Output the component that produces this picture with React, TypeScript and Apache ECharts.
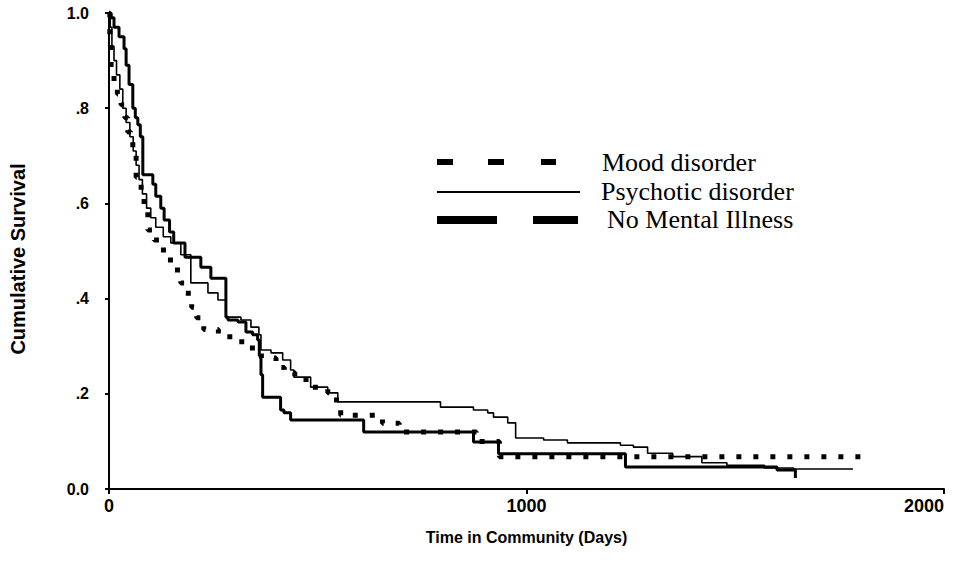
import React, { useEffect, useRef } from 'react';
import * as echarts from 'echarts';

// Kaplan-Meier step data (days, cumulative survival)
const moodDays = [0, 2, 5, 12, 20, 29, 38, 45, 52, 57, 65, 77, 84, 93, 108, 124, 141, 156, 172, 190, 198, 210, 227, 262, 318, 365, 400, 420, 445, 483, 524, 545, 555, 655, 695, 880, 935, 1804];
const moodSurv = [1, 0.94, 0.876, 0.855, 0.83, 0.807, 0.78, 0.75, 0.73, 0.708, 0.655, 0.622, 0.586, 0.544, 0.523, 0.502, 0.481, 0.46, 0.433, 0.403, 0.382, 0.36, 0.335, 0.32, 0.296, 0.275, 0.255, 0.245, 0.23, 0.214, 0.202, 0.181, 0.155, 0.138, 0.12, 0.1, 0.068, 0.068];

const psyDays = [0, 3, 7, 12, 18, 26, 33, 41, 50, 58, 65, 72, 80, 90, 100, 112, 130, 148, 172, 196, 237, 261, 280, 316, 340, 359, 364, 388, 416, 435, 443, 483, 524, 548, 794, 873, 907, 921, 955, 974, 1041, 1098, 1225, 1256, 1290, 1350, 1420, 1480, 1570, 1640, 1782];
const psySurv = [1, 0.97, 0.93, 0.9, 0.87, 0.84, 0.8, 0.77, 0.74, 0.71, 0.68, 0.65, 0.62, 0.59, 0.57, 0.55, 0.53, 0.517, 0.492, 0.433, 0.412, 0.397, 0.361, 0.355, 0.34, 0.324, 0.292, 0.286, 0.271, 0.25, 0.235, 0.214, 0.202, 0.183, 0.172, 0.166, 0.16, 0.151, 0.139, 0.107, 0.103, 0.097, 0.092, 0.088, 0.075, 0.068, 0.055, 0.05, 0.044, 0.042, 0.042];

const nmiDays = [0, 5, 12, 24, 36, 41, 48, 57, 63, 69, 75, 81, 105, 112, 124, 132, 145, 155, 182, 220, 244, 280, 285, 309, 328, 344, 356, 360, 364, 368, 411, 419, 435, 610, 873, 933, 1237, 1600, 1644];
const nmiSurv = [1, 0.99, 0.97, 0.95, 0.925, 0.89, 0.85, 0.8, 0.78, 0.765, 0.74, 0.66, 0.64, 0.615, 0.59, 0.565, 0.54, 0.517, 0.487, 0.466, 0.443, 0.361, 0.355, 0.351, 0.33, 0.324, 0.313, 0.28, 0.24, 0.193, 0.166, 0.16, 0.145, 0.12, 0.099, 0.074, 0.046, 0.04, 0.023];

const seriesNames = ['Mood disorder', 'Psychotic disorder', 'No Mental Illness'];
const xTickLabels = ['0', '1000', '2000'];
const yTickLabels = ['0.0', '.2', '.4', '.6', '.8', '1.0'];
const xAxisTitle = 'Time in Community (Days)';
const yAxisTitle = 'Cumulative Survival';

const SANS = "'Liberation Sans', Arial, sans-serif";
const SERIF = "'Liberation Serif', 'Times New Roman', serif";

function pairs(d: number[], s: number[]) {
  return d.map((t, i) => [t, s[i]]);
}

export default function App() {
  const ref = useRef<HTMLDivElement>(null);
  useEffect(() => {
    const chart = echarts.init(ref.current as HTMLDivElement, null, { renderer: 'svg' });
    const axisText = { color: '#000', fontFamily: SANS, fontWeight: 'bold' as const };
    chart.setOption({
      animation: false,
      backgroundColor: '#fff',
      grid: { left: 108, right: 9, top: 13, bottom: 85 },
      xAxis: {
        type: 'value',
        min: 0,
        max: 2000,
        interval: 1000,
        splitLine: { show: false },
        axisLine: { lineStyle: { color: '#000', width: 2 } },
        axisTick: { show: true, length: 5, lineStyle: { color: '#000', width: 2 } },
        axisLabel: {
          ...axisText,
          fontSize: 18,
          margin: 8,
          alignMaxLabel: 'right',
          formatter: (v: number) => xTickLabels[Math.round(v / 1000)],
        },
        name: xAxisTitle,
        nameLocation: 'middle',
        nameGap: 40,
        nameTextStyle: { ...axisText, fontSize: 16 },
      },
      yAxis: {
        type: 'value',
        min: 0,
        max: 1,
        interval: 0.2,
        splitLine: { show: false },
        axisLine: { show: true, lineStyle: { color: '#000', width: 2 } },
        axisTick: { show: true, length: 4, lineStyle: { color: '#000', width: 2 } },
        axisLabel: {
          ...axisText,
          fontSize: 16,
          margin: 20,
          formatter: (v: number) => yTickLabels[Math.round(v * 5)],
        },
        name: yAxisTitle,
        nameLocation: 'middle',
        nameGap: 81,
        nameRotate: 90,
        nameTextStyle: { ...axisText, fontSize: 20, padding: [0, 16, 0, 0] },
      },
      series: [
        {
          name: seriesNames[0],
          type: 'line',
          step: 'end',
          data: pairs(moodDays, moodSurv),
          showSymbol: false,
          lineStyle: { color: '#000', width: 5, type: [5, 12], cap: 'butt' },
          z: 3,
        },
        {
          name: seriesNames[1],
          type: 'line',
          step: 'end',
          data: pairs(psyDays, psySurv),
          showSymbol: false,
          lineStyle: { color: '#000', width: 1.6 },
          z: 2,
        },
        {
          name: seriesNames[2],
          type: 'line',
          step: 'end',
          data: pairs(nmiDays, nmiSurv),
          showSymbol: false,
          lineStyle: { color: '#000', width: 3 },
          z: 2,
        },
      ],
      graphic: [
        { type: 'rect', shape: { x: 437, y: 159, width: 16, height: 6 }, style: { fill: '#000' } },
        { type: 'rect', shape: { x: 488, y: 159, width: 16, height: 6 }, style: { fill: '#000' } },
        { type: 'rect', shape: { x: 541, y: 159, width: 15, height: 6 }, style: { fill: '#000' } },
        { type: 'line', shape: { x1: 437, y1: 192, x2: 580, y2: 192 }, style: { stroke: '#000', lineWidth: 2 } },
        { type: 'rect', shape: { x: 437, y: 216, width: 60, height: 8 }, style: { fill: '#000' } },
        { type: 'rect', shape: { x: 533, y: 216, width: 45, height: 8 }, style: { fill: '#000' } },
        { type: 'text', x: 602, y: 162, style: { text: seriesNames[0], fill: '#000', font: `26px ${SERIF}`, verticalAlign: 'middle' } },
        { type: 'text', x: 601, y: 191, style: { text: seriesNames[1], fill: '#000', font: `26px ${SERIF}`, verticalAlign: 'middle' } },
        { type: 'text', x: 607, y: 219, style: { text: seriesNames[2], fill: '#000', font: `26px ${SERIF}`, verticalAlign: 'middle' } },
      ],
    });
    return () => chart.dispose();
  }, []);
  return <div ref={ref} style={{ position: 'absolute', left: 0, top: 0, width: 953, height: 574 }} />;
}
